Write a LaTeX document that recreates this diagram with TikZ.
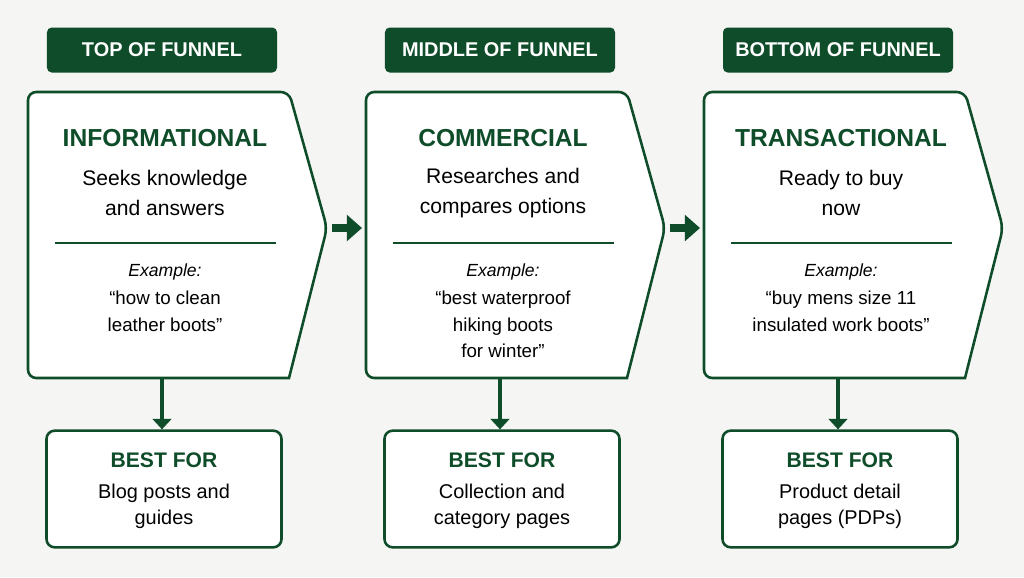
\documentclass[tikz,border=0pt]{standalone}
\usepackage{fontspec}
\setmainfont{Liberation Sans}
\usetikzlibrary{arrows.meta,positioning}
\definecolor{funnelgreen}{HTML}{0F4D2A}
\definecolor{bgpaper}{HTML}{F5F5F4}
\tikzset{
  stagehead/.style={fill=funnelgreen, rounded corners=4pt, minimum width=6.9cm, minimum height=1.35cm, text=white, font=\bfseries\fontsize{17}{20}\selectfont},
  intentbox/.style={draw=funnelgreen, line width=2.2pt, fill=white, rounded corners=7pt},
  besttext/.style={align=center, font=\fontsize{17}{22}\selectfont},
  flowarrow/.style={funnelgreen, line width=7pt, -{Triangle[length=13pt, width=22pt]}},
  downarrow/.style={funnelgreen, line width=2.6pt, -{Triangle[length=9pt, width=16pt]}}
}
\begin{document}
\begin{tikzpicture}[x=0.03cm, y=-0.03cm]
  \fill[bgpaper] (0,0) rectangle (1024,577);
  \useasboundingbox (0,0) rectangle (1024,577);

  % three stages of the funnel
  \foreach \i/\head/\kind/\lineA/\lineB/\exA/\exB/\exC/\bestA/\bestB in {%
      0/TOP OF FUNNEL/INFORMATIONAL/Seeks knowledge/and answers/{``how to clean}/{leather boots''}/{}/Blog posts and/guides,%
      1/MIDDLE OF FUNNEL/COMMERCIAL/Researches and/compares options/{``best waterproof}/hiking boots/{for winter''}/Collection and/category pages,%
      2/BOTTOM OF FUNNEL/TRANSACTIONAL/Ready to buy/now/{``buy mens size 11}/{insulated work boots''}/{}/Product detail/pages (PDPs)} {
    \begin{scope}[shift={(\i*338,0)}]
      \node[stagehead] (head\i) at (162,50) {\head};
      % pentagon box
      \draw[intentbox, rounded corners=7pt] (28,92) -- (289,92) -- (327,228)
        [rounded corners=0pt] -- (289,378) [rounded corners=7pt] -- (28,378) -- cycle;
      \coordinate (tip\i) at (327,228);
      \coordinate (foot\i) at (162,378);
      \node[text=funnelgreen, font=\bfseries\fontsize{21}{26}\selectfont] (kind\i) at (165,138) {\kind};
      \node[besttext, font=\fontsize{18}{25}\selectfont] (desc\i) at (165,193) {\lineA\\\lineB};
      \draw[funnelgreen, line width=1.6pt] (55,243) -- (276,243);
      \node[align=center, font=\fontsize{15}{22}\selectfont] (ex\i) at (165,272) {\itshape Example:};
      \node[align=center, anchor=north, font=\fontsize{16}{22.5}\selectfont] (quote\i) at (165,287) {\exA\\\exB\\\exC};
      % best for box
      \node[intentbox, minimum width=7.05cm, minimum height=3.5cm] (best\i) at (164,489) {};
      \node[text=funnelgreen, font=\bfseries\fontsize{18}{22}\selectfont] (bestlabel\i) at (164,460) {BEST FOR};
      \node[besttext] (bestuse\i) at (164,506) {\bestA\\\bestB};
      \draw[downarrow] (foot\i) -- (foot\i |- best\i.north);
    \end{scope}
  }

  % arrows between stages
  \coordinate (gap0) at (362,228);
  \coordinate (gap1) at (700,228);
  \draw[flowarrow] ([xshift=4pt]tip0) -- (gap0);
  \draw[flowarrow] ([xshift=4pt]tip1) -- (gap1);
\end{tikzpicture}
\end{document}
